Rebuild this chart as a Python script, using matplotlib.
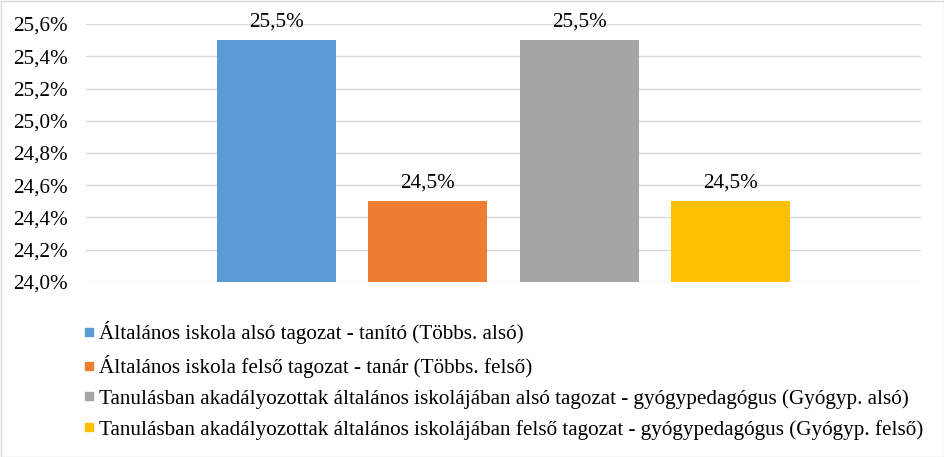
import matplotlib
matplotlib.use("Agg")
import matplotlib.pyplot as plt
from matplotlib.ticker import FuncFormatter, MultipleLocator
from matplotlib.patches import Rectangle
from matplotlib.lines import Line2D

plt.rcParams['font.family'] = ['Liberation Serif', 'DejaVu Serif']

labels = [
    "Általános iskola alsó tagozat - tanító (Többs. alsó)",
    "Általános iskola felső tagozat - tanár (Többs. felső)",
    "Tanulásban akadályozottak általános iskolájában alsó tagozat - gyógypedagógus (Gyógyp. alsó)",
    "Tanulásban akadályozottak általános iskolájában felső tagozat - gyógypedagógus (Gyógyp. felső)",
]
values = [25.5, 24.5, 25.5, 24.5]
colors = ["#5B9BD5", "#ED7D31", "#A5A5A5", "#FFC000"]

FS = 15.2

fig = plt.figure(figsize=(9.45, 4.57), dpi=100)
ax = fig.add_axes([86/945, 1-282/457, (921-86)/945, (282-24)/457])

x = list(range(len(values)))
bars = ax.bar(x, [v - 24.0 for v in values], bottom=24.0, width=0.785, color=colors, zorder=3)
ax.set_xlim(-1.255, 4.255)
ax.set_ylim(24.0, 25.6)
ax.yaxis.set_major_locator(MultipleLocator(0.2))
ax.yaxis.set_major_formatter(FuncFormatter(lambda v, p: f"{v:.1f}%".replace('.', ',')))
ax.grid(axis='y', color='#D9D9D9', linewidth=1.0, zorder=0)
ax.set_xticks([])
for s in ax.spines.values():
    s.set_visible(False)
ax.tick_params(axis='y', length=0, pad=13, labelsize=FS)

for xi, v in zip(x, values):
    ax.annotate(f"{v:.1f}%".replace('.', ','), (xi, v), xytext=(0, 6), textcoords='offset points',
                ha='center', va='bottom', fontsize=FS)

handles = [Line2D([], [], marker='s', linestyle='none', markersize=6, color=c) for c in colors]
fig.legend(handles, labels, loc='upper left', bbox_to_anchor=(84/945, 1-321/457),
           frameon=False, fontsize=FS, handlelength=0.5, handletextpad=0.2,
           labelspacing=0.52, borderpad=0, borderaxespad=0)

fig.patches.append(Rectangle((0.5/945, 0.5/457), 1-1/945, 1-1/457, transform=fig.transFigure,
                             fill=False, edgecolor='#D9D9D9', linewidth=1.0))

fig.savefig("out.png", dpi=100)
